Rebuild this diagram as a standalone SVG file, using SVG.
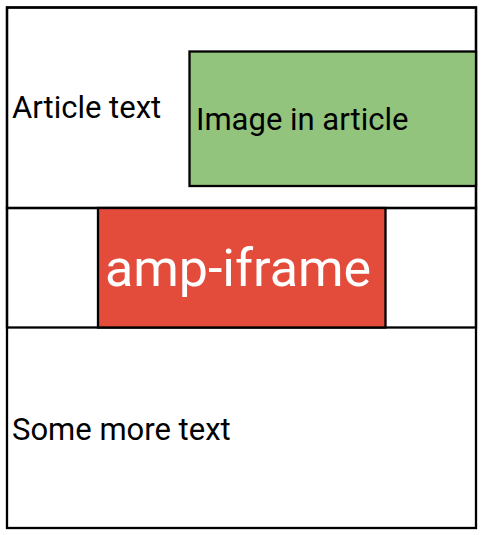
<svg xmlns="http://www.w3.org/2000/svg" width="484" height="535" viewBox="0 0 484 535">
<style>
.box{stroke:#000;stroke-width:2.3}
.t{font-family:Roboto,"Liberation Sans",sans-serif;font-size:31px;fill:#000}
.big{font-family:Roboto,"Liberation Sans",sans-serif;font-size:52px;fill:#fff}
</style>
<rect width="484" height="535" fill="#fff"/>
<g id="page">
<rect class="box" x="7" y="7.5" width="469" height="520.5" fill="#fff"/>
</g>
<g id="article">
<rect class="box" x="7" y="7.5" width="469" height="200.5" fill="none"/>
<text class="t" x="12" y="118">Article text</text>
</g>
<g id="image">
<rect class="box" x="189.5" y="51.5" width="286.5" height="134.5" fill="#93c47d"/>
<text class="t" x="196" y="130">Image in article</text>
</g>
<g id="iframe-row">
<rect class="box" x="7" y="208" width="469" height="119.5" fill="none"/>
</g>
<g id="amp-iframe">
<rect class="box" x="98" y="208" width="287.5" height="119.5" fill="#e34b3b"/>
<text class="big" x="238" y="286" text-anchor="middle">amp-iframe</text>
</g>
<g id="more">
<text class="t" x="12" y="440">Some more text</text>
</g>
<g id="connectors"/>
</svg>
